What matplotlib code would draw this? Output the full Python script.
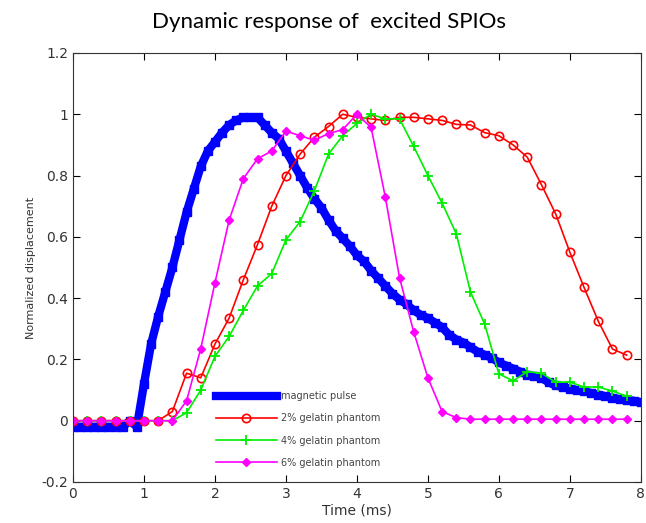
import numpy as np
import matplotlib.pyplot as plt

# sampled time points (ms)
t_gel = np.round(np.arange(0, 7.81, 0.2), 1)
t_pulse = np.round(np.arange(0, 8.01, 0.1), 1)

pulse = [-0.02, -0.02, -0.02, -0.02, -0.02, -0.02, -0.02, -0.02, 0.0, -0.02,
         0.12, 0.25, 0.34, 0.42, 0.50, 0.59, 0.68, 0.755, 0.83, 0.88,
         0.91, 0.94, 0.965, 0.98, 0.99, 0.99, 0.99, 0.965, 0.94, 0.92,
         0.88, 0.84, 0.80, 0.76, 0.725, 0.695, 0.655, 0.62, 0.595, 0.57,
         0.54, 0.52, 0.49, 0.465, 0.44, 0.415, 0.395, 0.38, 0.36, 0.345,
         0.335, 0.32, 0.305, 0.28, 0.265, 0.255, 0.24, 0.225, 0.215, 0.205,
         0.19, 0.18, 0.17, 0.16, 0.15, 0.145, 0.14, 0.125, 0.115, 0.11,
         0.105, 0.10, 0.097, 0.09, 0.085, 0.08, 0.075, 0.07, 0.068, 0.065,
         0.06]

gel2 = [0, 0, 0, 0, 0, 0, 0, 0.03, 0.155, 0.14,
        0.25, 0.335, 0.46, 0.575, 0.70, 0.80, 0.87, 0.925, 0.96, 1.0,
        0.99, 0.985, 0.98, 0.99, 0.99, 0.985, 0.98, 0.967, 0.965, 0.94,
        0.93, 0.90, 0.86, 0.77, 0.675, 0.55, 0.435, 0.325, 0.234, 0.214]

gel4 = [0, 0, 0, 0, 0, 0, 0, 0.0, 0.026, 0.10,
        0.21, 0.275, 0.36, 0.44, 0.48, 0.59, 0.65, 0.75, 0.87, 0.93,
        0.97, 1.0, 0.985, 0.985, 0.895, 0.80, 0.71, 0.61, 0.42, 0.315,
        0.153, 0.13, 0.16, 0.155, 0.126, 0.126, 0.11, 0.11, 0.097, 0.08]

gel6 = [0, 0, 0, 0, 0, 0, 0, 0, 0.065, 0.235,
        0.45, 0.655, 0.79, 0.855, 0.88, 0.945, 0.93, 0.915, 0.937, 0.95,
        1.0, 0.957, 0.73, 0.467, 0.29, 0.14, 0.03, 0.01, 0.005, 0.005,
        0.005, 0.005, 0.005, 0.005, 0.005, 0.005, 0.005, 0.005, 0.005, 0.005]

labels = ['magnetic pulse', '2% gelatin phantom', '4% gelatin phantom', '6% gelatin phantom']

fig = plt.figure(figsize=(6.46, 5.23), dpi=100)
ax = fig.add_axes([0.113, 0.0784, 0.879, 0.8203])

ax.plot(t_pulse, pulse, color='blue', linewidth=6, marker='s', markersize=6,
        label=labels[0])
ax.plot(t_gel, gel2, color='red', linewidth=1.2, marker='o', markersize=6,
        markerfacecolor='none', markeredgewidth=1.2, label=labels[1])
ax.plot(t_gel, gel4, color='#00ee00', linewidth=1.2, marker='+', markersize=7,
        markeredgewidth=1.3, label=labels[2])
ax.plot(t_gel, gel6, color='magenta', linewidth=1.2, marker='D', markersize=4,
        label=labels[3])

ax.set_xlim(0, 8)
ax.set_ylim(-0.2, 1.2)
ax.set_xticks(np.arange(0, 9, 1))
ax.set_yticks(np.round(np.arange(-0.2, 1.21, 0.2), 1))
ax.set_yticklabels(['-0.2', '0', '0.2', '0.4', '0.6', '0.8', '1', '1.2'])
ax.tick_params(direction='in', top=True, right=True, labelsize=10,
               labelcolor='#333333', length=5)
for s in ax.spines.values():
    s.set_color('#333333')

ax.set_xlabel('Time (ms)', fontsize=10, color='#333333', labelpad=2)
ax.set_ylabel('Normalized displacement', fontsize=8, color='#333333')

leg = ax.legend(loc='upper left', bbox_to_anchor=(0.237, 0.232), fontsize=7,
                frameon=False, handlelength=6.2, handletextpad=0.5,
                labelspacing=1.25, numpoints=1)
# the thick pulse line shows no marker in the legend
leg.legend_handles[0].set_marker('None')
for txt in leg.get_texts():
    txt.set_color('#444444')

fig.text(0.51, 0.958, 'Dynamic response of  excited SPIOs', ha='center', va='center',
         fontsize=16, family=['Lato', 'DejaVu Sans'])

fig.savefig('out.png', dpi=100)
